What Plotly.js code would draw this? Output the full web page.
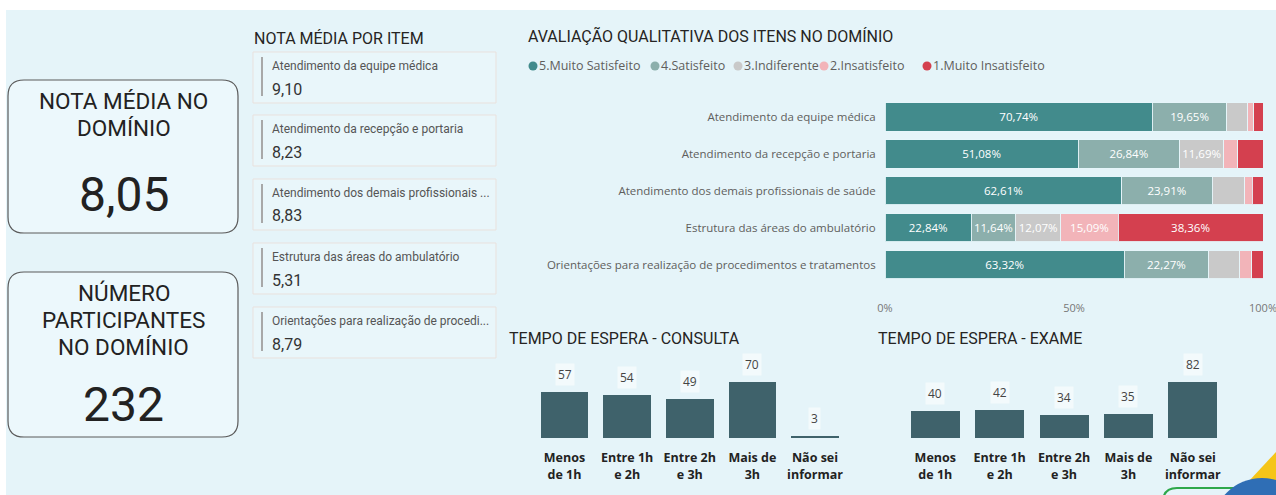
<!DOCTYPE html>
<html>
<head>
<meta charset="utf-8">
<script src="https://cdn.plot.ly/plotly-3.0.1.min.js"></script>
<style>
html,body{margin:0;padding:0;background:#ffffff;}
#chart{width:1276px;height:495px;}
</style>
</head>
<body>
<div id="chart"></div>
<script>
// ---------- DATA ----------
const items = [
  "Atendimento da equipe médica",
  "Atendimento da recepção e portaria",
  "Atendimento dos demais profissionais de saúde",
  "Estrutura das áreas do ambulatório",
  "Orientações para realização de procedimentos e tratamentos"
];
const itemCardLabels = [
  "Atendimento da equipe médica",
  "Atendimento da recepção e portaria",
  "Atendimento dos demais profissionais ...",
  "Estrutura das áreas do ambulatório",
  "Orientações para realização de procedi..."
];
const itemScores = ["9,10", "8,23", "8,83", "5,31", "8,79"];

const seriesNames = ["5.Muito Satisfeito", "4.Satisfeito", "3.Indiferente", "2.Insatisfeito", "1.Muito Insatisfeito"];
const muitoSatisfeito   = [70.74, 51.08, 62.61, 22.84, 63.32];
const satisfeito        = [19.65, 26.84, 23.91, 11.64, 22.27];
const indiferente       = [5.60, 11.69, 8.70, 12.07, 8.20];
const insatisfeito      = [1.60, 3.70, 1.90, 15.09, 3.20];
const muitoInsatisfeito = [2.41, 6.69, 2.88, 38.36, 3.01];
const pctTicks = [0, 50, 100];
const pctTickLabels = ["0%", "50%", "100%"];

const waitCategories = ["Menos<br>de 1h", "Entre 1h<br>e 2h", "Entre 2h<br>e 3h", "Mais de<br>3h", "Não sei<br>informar"];
const consultaCounts = [57, 54, 49, 70, 3];
const exameCounts    = [40, 42, 34, 35, 82];

const notaMediaDominio = "8,05";
const participantes = "232";

// ---------- STYLE ----------
const W = 1276, H = 495;
const px = x => x / W;
const py = y => 1 - y / H;
const seriesColors = ["#428B8C", "#8CAFAC", "#C9C9C9", "#F2B4B9", "#D4404F"];
const barColor = "#3F626B";
const titleFont = {family: "Roboto, 'DejaVu Sans', sans-serif", size: 16, color: "#252423"};
const uiFont = "'Open Sans', 'Noto Sans', sans-serif";

function rrect(x0, y0, x1, y1, r) {
  const X = px, Y = py;
  return `M ${X(x0 + r)} ${Y(y0)} L ${X(x1 - r)} ${Y(y0)} Q ${X(x1)} ${Y(y0)} ${X(x1)} ${Y(y0 + r)} ` +
         `L ${X(x1)} ${Y(y1 - r)} Q ${X(x1)} ${Y(y1)} ${X(x1 - r)} ${Y(y1)} ` +
         `L ${X(x0 + r)} ${Y(y1)} Q ${X(x0)} ${Y(y1)} ${X(x0)} ${Y(y1 - r)} ` +
         `L ${X(x0)} ${Y(y0 + r)} Q ${X(x0)} ${Y(y0)} ${X(x0 + r)} ${Y(y0)} Z`;
}

// ---------- TRACES ----------
const stackSeries = [muitoSatisfeito, satisfeito, indiferente, insatisfeito, muitoInsatisfeito];
const traces = stackSeries.map((vals, i) => ({
  type: "bar",
  orientation: "h",
  name: seriesNames[i],
  x: vals,
  y: items,
  xaxis: "x",
  yaxis: "y",
  marker: {color: seriesColors[i], line: {color: "rgba(230,245,250,0.9)", width: 1}},
  text: vals.map(v => v >= 10 ? v.toFixed(2).replace(".", ",") + "%" : ""),
  texttemplate: "%{text}",
  textposition: "inside",
  insidetextanchor: "middle",
  constraintext: "none",
  textangle: 0,
  textfont: {family: uiFont, size: 11.5, color: "#ffffff"},
  hoverinfo: "skip",
  showlegend: false
}));

traces.push({
  type: "bar", x: waitCategories, y: consultaCounts, xaxis: "x2", yaxis: "y2",
  marker: {color: barColor}, hoverinfo: "skip", showlegend: false
});
traces.push({
  type: "bar", x: waitCategories, y: exameCounts, xaxis: "x3", yaxis: "y3",
  marker: {color: barColor}, hoverinfo: "skip", showlegend: false
});

// ---------- SHAPES & ANNOTATIONS ----------
const shapes = [];
const annotations = [];

// page background
shapes.push({type: "rect", xref: "paper", yref: "paper", x0: px(6), x1: 1, y0: 0, y1: py(10),
  fillcolor: "#E5F4F9", line: {width: 0}, layer: "below"});

// Left KPI cards
shapes.push({type: "path", xref: "paper", yref: "paper", path: rrect(8, 80, 238, 233, 16),
  line: {color: "#5a5a5a", width: 1.2}, fillcolor: "rgba(240,250,253,0.6)", layer: "below"});
shapes.push({type: "path", xref: "paper", yref: "paper", path: rrect(8, 272, 238, 437, 16),
  line: {color: "#5a5a5a", width: 1.2}, fillcolor: "rgba(240,250,253,0.6)", layer: "below"});

const kpiFont = (s) => ({family: "Roboto, 'DejaVu Sans', sans-serif", size: s, color: "#222222"});
annotations.push({xref: "paper", yref: "paper", x: px(124), y: py(101), text: "NOTA MÉDIA NO", showarrow: false, font: kpiFont(22.5), xanchor: "center", yanchor: "middle"});
annotations.push({xref: "paper", yref: "paper", x: px(124), y: py(128), text: "DOMÍNIO", showarrow: false, font: kpiFont(22.5), xanchor: "center", yanchor: "middle"});
annotations.push({xref: "paper", yref: "paper", x: px(124), y: py(194), text: notaMediaDominio, showarrow: false, font: kpiFont(48), xanchor: "center", yanchor: "middle"});
annotations.push({xref: "paper", yref: "paper", x: px(124), y: py(293), text: "NÚMERO", showarrow: false, font: kpiFont(22.5), xanchor: "center", yanchor: "middle"});
annotations.push({xref: "paper", yref: "paper", x: px(124), y: py(320), text: "PARTICIPANTES", showarrow: false, font: kpiFont(22.5), xanchor: "center", yanchor: "middle"});
annotations.push({xref: "paper", yref: "paper", x: px(124), y: py(347), text: "NO DOMÍNIO", showarrow: false, font: kpiFont(22.5), xanchor: "center", yanchor: "middle"});
annotations.push({xref: "paper", yref: "paper", x: px(124), y: py(404), text: participantes, showarrow: false, font: kpiFont(48), xanchor: "center", yanchor: "middle"});

// Middle item cards
annotations.push({xref: "paper", yref: "paper", x: px(252), y: py(38), text: "NOTA MÉDIA POR ITEM", showarrow: false, font: titleFont, xanchor: "left", yanchor: "middle"});
const cardTops = [52, 115, 179, 243, 307];
itemCardLabels.forEach((lab, i) => {
  const t = cardTops[i];
  shapes.push({type: "rect", xref: "paper", yref: "paper", x0: px(253), x1: px(496), y0: py(t), y1: py(t + 51),
    line: {color: "#E9E1DD", width: 1}, fillcolor: "rgba(240,250,253,0.4)", layer: "below"});
  shapes.push({type: "line", xref: "paper", yref: "paper", x0: px(262), x1: px(262), y0: py(t + 5), y1: py(t + 44),
    line: {color: "#A8A8A8", width: 2}});
  annotations.push({xref: "paper", yref: "paper", x: px(270), y: py(t + 14), text: lab, showarrow: false,
    font: {family: "Roboto, sans-serif", size: 12, color: "#555555"}, xanchor: "left", yanchor: "middle"});
  annotations.push({xref: "paper", yref: "paper", x: px(270), y: py(t + 37), text: itemScores[i], showarrow: false,
    font: {family: "Roboto, sans-serif", size: 16, color: "#333333"}, xanchor: "left", yanchor: "middle"});
});

// Stacked chart title & legend
annotations.push({xref: "paper", yref: "paper", x: px(526), y: py(36), text: "AVALIAÇÃO QUALITATIVA DOS ITENS NO DOMÍNIO", showarrow: false, font: titleFont, xanchor: "left", yanchor: "middle"});
const legendX = [533, 655, 738, 824, 927];
seriesNames.forEach((n, i) => {
  const cx = legendX[i];
  shapes.push({type: "circle", xref: "paper", yref: "paper", x0: px(cx - 4.5), x1: px(cx + 4.5), y0: py(66 - 4.5), y1: py(66 + 4.5),
    fillcolor: seriesColors[i], line: {width: 0}});
  annotations.push({xref: "paper", yref: "paper", x: px(cx + 4), y: py(66), text: n, showarrow: false,
    font: {family: uiFont, size: 12.5, color: "#605E5C"}, xanchor: "left", yanchor: "middle"});
});

// Wait time titles
annotations.push({xref: "paper", yref: "paper", x: px(507), y: py(338), text: "TEMPO DE ESPERA - CONSULTA", showarrow: false, font: titleFont, xanchor: "left", yanchor: "middle"});
annotations.push({xref: "paper", yref: "paper", x: px(876), y: py(338), text: "TEMPO DE ESPERA - EXAME", showarrow: false, font: titleFont, xanchor: "left", yanchor: "middle"});

// Data labels on wait bars
function barLabels(counts, xa, ya) {
  counts.forEach((v, i) => {
    annotations.push({xref: xa, yref: ya, x: waitCategories[i], y: v, text: String(v), showarrow: false,
      yanchor: "bottom", yshift: 6, bgcolor: "rgba(255,255,255,0.55)", borderpad: 2,
      font: {family: uiFont, size: 12, color: "#444444"}});
  });
}
barLabels(consultaCounts, "x2", "y2");
barLabels(exameCounts, "x3", "y3");

// Corner decoration
shapes.push({type: "path", xref: "paper", yref: "paper", path: `M ${px(1236)} ${py(495)} L ${px(1276)} ${py(452)} L ${px(1276)} ${py(495)} Z`,
  fillcolor: "#F5C518", line: {width: 0}});
shapes.push({type: "path", xref: "paper", yref: "paper", path: rrect(1163, 488, 1320, 540, 14),
  fillcolor: "rgba(0,0,0,0)", line: {color: "#2EA84B", width: 2}});
shapes.push({type: "circle", xref: "paper", yref: "paper", x0: px(1212), x1: px(1312), y0: py(478), y1: py(578),
  fillcolor: "#2F6EB5", line: {width: 0}});

// ---------- LAYOUT ----------
const tickBold = {family: uiFont, size: 12.5, color: "#222222", weight: "bold"};
const layout = {
  width: W, height: H,
  margin: {l: 0, r: 0, t: 0, b: 0, pad: 0},
  paper_bgcolor: "#ffffff",
  plot_bgcolor: "rgba(0,0,0,0)",
  separators: ",.",
  barmode: "stack",
  bargap: 0.24,
  showlegend: false,
  font: {family: uiFont},
  xaxis: {
    domain: [px(885), px(1263)], anchor: "y", range: [0, 100], tickmode: "array", tickvals: pctTicks, ticktext: pctTickLabels,
    showgrid: false, zeroline: false, showline: false, ticks: "", fixedrange: true, ticklabeloverflow: "allow",
    tickfont: {family: uiFont, size: 11, color: "#777777"}
  },
  yaxis: {
    domain: [py(300), py(98.5)], anchor: "x", type: "category", range: [4.95, -0.5],
    showgrid: false, zeroline: false, showline: false, ticks: "outside", ticklen: 6, tickcolor: "rgba(0,0,0,0)",
    tickfont: {family: uiFont, size: 11.5, color: "#605E5C"}
  },
  xaxis2: {
    domain: [px(533.2), px(846.3)], anchor: "y2", type: "category",
    showgrid: false, zeroline: false, showline: false, ticks: "outside", ticklen: 8, tickcolor: "rgba(0,0,0,0)",
    tickfont: tickBold
  },
  yaxis2: {domain: [py(438.3), py(360)], anchor: "x2", range: [0, 96.8], visible: false},
  xaxis3: {
    domain: [px(903.1), px(1225)], anchor: "y3", type: "category",
    showgrid: false, zeroline: false, showline: false, ticks: "outside", ticklen: 8, tickcolor: "rgba(0,0,0,0)",
    tickfont: tickBold
  },
  yaxis3: {domain: [py(438.3), py(360)], anchor: "x3", range: [0, 114.6], visible: false},
  shapes: shapes,
  annotations: annotations
};

Plotly.newPlot("chart", traces, layout, {staticPlot: true, displayModeBar: false});
</script>
</body>
</html>
